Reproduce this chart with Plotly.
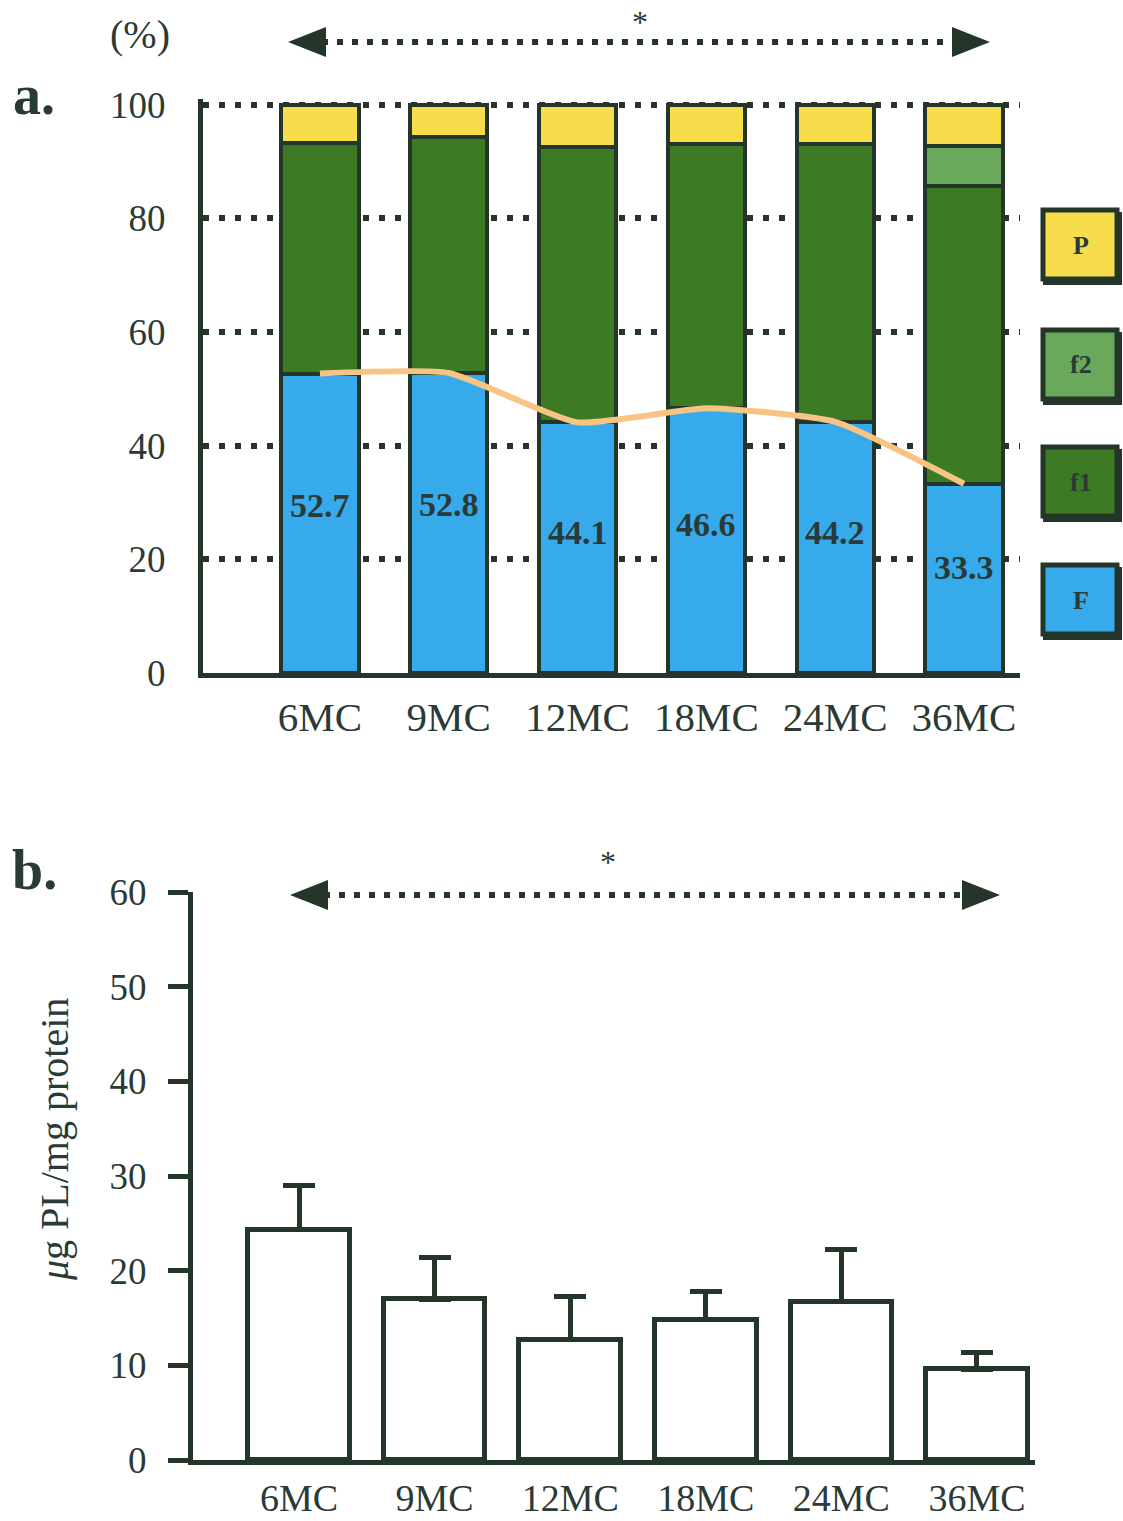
import plotly.graph_objects as go

# Age groups (months of culture)
groups = ["6MC", "9MC", "12MC", "18MC", "24MC", "36MC"]

# a. Relative composition (%) of each fraction, stacked bottom to top
frac_F = [52.7, 52.8, 44.1, 46.6, 44.2, 33.3]
frac_f1 = [40.6, 41.6, 48.5, 46.4, 48.8, 52.4]
frac_f2 = [0.0, 0.0, 0.0, 0.0, 0.0, 7.1]
frac_P = [6.7, 5.6, 7.4, 7.0, 7.0, 7.2]

# b. Phospholipid content (µg PL / mg protein), mean and SD
pl_mean = [24.3, 17.0, 12.7, 14.8, 16.7, 9.6]
pl_sd = [4.7, 4.4, 4.6, 3.0, 5.5, 1.8]

legend_items = ["P", "f2", "f1", "F"]

INK = "#233629"
TXT = "#2a3a36"
C_F = "#36aaea"
C_F1 = "#3d7a24"
C_F2 = "#6aa85c"
C_P = "#f7dc4c"
C_LINE = "#f7c484"
SERIF = "Liberation Serif, Times New Roman, serif"

W, H = 1123, 1521


def px(x):
    return x / W


def py(y):
    return 1 - y / H


def label(x, y, text, size, **kw):
    d = dict(x=px(x), y=py(y), xref="paper", yref="paper", text=text,
             showarrow=False, xanchor="center", yanchor="middle",
             font=dict(family=SERIF, size=size, color=TXT))
    d.update(kw)
    return d


fig = go.Figure()

seg_line = dict(color=INK, width=4)
for name, vals, col in [("F", frac_F, C_F), ("f1", frac_f1, C_F1),
                        ("f2", frac_f2, C_F2), ("P", frac_P, C_P)]:
    fig.add_trace(go.Bar(x=groups, y=vals, name=name, width=0.6,
                         marker=dict(color=col, line=seg_line),
                         xaxis="x", yaxis="y", showlegend=False))

# Trend of fraction F across ages
fig.add_trace(go.Scatter(x=groups, y=frac_F, mode="lines",
                         line=dict(color=C_LINE, width=6, shape="spline", smoothing=0.5),
                         xaxis="x", yaxis="y", showlegend=False, hoverinfo="skip"))

# Panel b bars with upward SD whiskers
fig.add_trace(go.Bar(x=groups, y=pl_mean, width=0.75,
                     marker=dict(color="white", line=dict(color=INK, width=5)),
                     error_y=dict(type="data", symmetric=False, array=pl_sd,
                                  arrayminus=[0] * len(pl_sd),
                                  color=INK, thickness=5, width=16),
                     xaxis="x2", yaxis="y2", showlegend=False))

annotations = []
# Value labels for fraction F
for g, v in zip(groups, frac_F):
    annotations.append(dict(x=g, y=v * 0.56, xref="x", yref="y", text=f"<b>{v:.1f}</b>",
                            showarrow=False, xanchor="center", yanchor="middle",
                            font=dict(family=SERIF, size=34, color=TXT)))

shapes = []
# Legend swatches on the right of panel a
box_tops = [210, 330, 447, 565]
box_cols = [C_P, C_F2, C_F1, C_F]
for item, top, col in zip(legend_items, box_tops, box_cols):
    shapes.append(dict(type="rect", xref="paper", yref="paper",
                       x0=px(1043), x1=px(1122), y0=py(top + 75), y1=py(top + 2),
                       fillcolor=INK, line=dict(width=0), layer="above"))
    shapes.append(dict(type="rect", xref="paper", yref="paper",
                       x0=px(1043), x1=px(1117), y0=py(top + 69), y1=py(top),
                       fillcolor=col, line=dict(color=INK, width=5), layer="above"))
    annotations.append(label(1081, top + 35, f"<b>{item}</b>", 26))


def double_arrow(x_left, x_right, y, half=15, head=38):
    out = [dict(type="line", xref="paper", yref="paper",
                x0=px(x_left + head - 4), x1=px(x_right - head + 4), y0=py(y), y1=py(y),
                line=dict(color=INK, width=6, dash="6px,9px"), layer="above")]
    out.append(dict(type="path", xref="paper", yref="paper",
                    path=(f"M {px(x_left)},{py(y)} L {px(x_left + head)},{py(y - half)} "
                          f"L {px(x_left + head)},{py(y + half)} Z"),
                    fillcolor=INK, line=dict(width=0), layer="above"))
    out.append(dict(type="path", xref="paper", yref="paper",
                    path=(f"M {px(x_right)},{py(y)} L {px(x_right - head)},{py(y - half)} "
                          f"L {px(x_right - head)},{py(y + half)} Z"),
                    fillcolor=INK, line=dict(width=0), layer="above"))
    return out


shapes += double_arrow(288, 990, 42)
shapes += double_arrow(290, 1000, 895)

annotations += [
    label(640, 22, "*", 32),
    label(608, 862, "*", 32),
    label(140, 35, "(%)", 40),
    label(34, 95, "<b>a.</b>", 56),
    label(34, 870, "<b>b.</b>", 56),
    label(54, 1140, "<i>μ</i>g PL/mg protein", 40, textangle=-90),
]

xtick_font = dict(family=SERIF, size=41, color=TXT)
xtick_font_b = dict(family=SERIF, size=38, color=TXT)
ytick_font = dict(family=SERIF, size=37, color=TXT)

fig.update_layout(
    width=W, height=H,
    margin=dict(l=0, r=0, t=0, b=0, autoexpand=False),
    paper_bgcolor="white", plot_bgcolor="white",
    barmode="stack", bargap=0,
    font=dict(family=SERIF, color=TXT),
    xaxis=dict(domain=[px(203), px(1020)], range=[-0.908, 5.435], anchor="y",
               automargin=False,
               showline=True, linecolor=INK, linewidth=5, showgrid=False,
               ticks="", tickfont=xtick_font, ticklabelstandoff=4, zeroline=False),
    yaxis=dict(domain=[py(673), py(99)], range=[0, 101], anchor="x",
               automargin=False,
               showline=True, linecolor=INK, linewidth=5,
               tickvals=[0, 20, 40, 60, 80, 100], showgrid=True,
               gridcolor=INK, gridwidth=6, griddash="6px,10px",
               ticks="", tickfont=ytick_font, ticklabelstandoff=25, zeroline=False),
    xaxis2=dict(domain=[px(193), px(1035)], range=[-0.782, 5.428], anchor="y2",
                automargin=False,
                showline=True, linecolor=INK, linewidth=5, showgrid=False,
                ticks="", tickfont=xtick_font_b, ticklabelstandoff=0, zeroline=False),
    yaxis2=dict(domain=[py(1460), py(892)], range=[0, 60], anchor="x2",
                automargin=False,
                showline=True, linecolor=INK, linewidth=5, showgrid=False,
                tickvals=[0, 10, 20, 30, 40, 50, 60],
                ticks="outside", ticklen=20, tickwidth=5, tickcolor=INK,
                tickfont=ytick_font, ticklabelstandoff=14, zeroline=False),
    annotations=annotations,
    shapes=shapes,
)

fig.write_html("out.html")
